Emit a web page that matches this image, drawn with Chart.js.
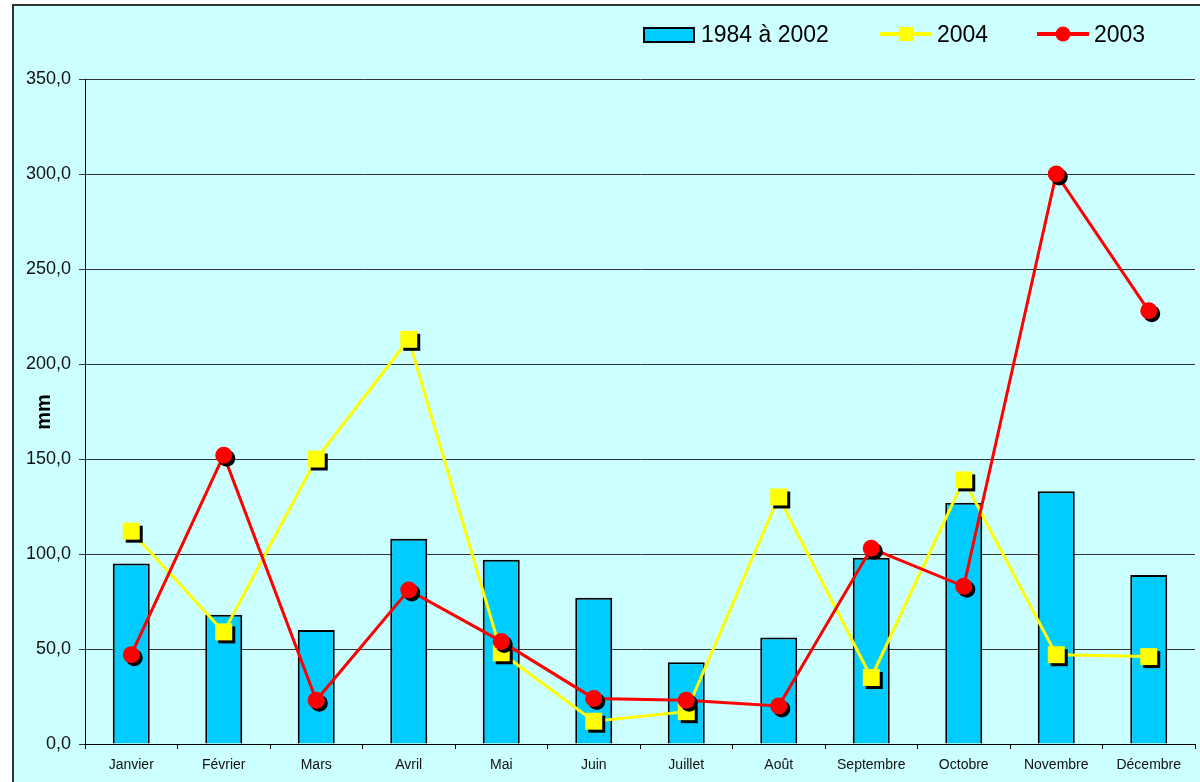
<!DOCTYPE html>
<html>
<head>
<meta charset="utf-8">
<script src="https://cdn.jsdelivr.net/npm/chart.js@4/dist/chart.umd.min.js"></script>
<style>
  html, body { margin: 0; padding: 0; background: #fff; }
  #wrap { width: 1200px; height: 782px; }
</style>
</head>
<body>
<div id="wrap"><canvas id="pluie" width="1200" height="782"></canvas></div>
<script>
const months = ['Janvier', 'Février', 'Mars', 'Avril', 'Mai', 'Juin', 'Juillet', 'Août', 'Septembre', 'Octobre', 'Novembre', 'Décembre'];
const normale = [95, 68, 60, 108, 97, 77, 43, 56, 98, 127, 133, 89];
const pluie2004 = [112, 59, 150, 213, 48, 12, 17, 130, 35, 139, 47, 46];
const pluie2003 = [47, 152, 23, 81, 54, 24, 23, 20, 103, 83, 300, 228];
const seriesNames = ['1984 à 2002', '2004', '2003'];
const yTicks = [0, 50, 100, 150, 200, 250, 300, 350];

const FONT = "'Liberation Sans', Arial, sans-serif";

// background + frame, shadow for marker datasets, legend and axis title
const decor = {
  id: 'decor',
  beforeDraw(chart) {
    const ctx = chart.ctx;
    ctx.save();
    ctx.fillStyle = '#ffffff';
    ctx.fillRect(0, 0, chart.width, chart.height);
    ctx.fillStyle = '#ccffff';
    ctx.fillRect(13, 5, chart.width, chart.height);
    ctx.strokeStyle = '#333';
    ctx.lineWidth = 2;
    ctx.beginPath();
    ctx.moveTo(13, chart.height);
    ctx.lineTo(13, 5);
    ctx.lineTo(chart.width, 5);
    ctx.stroke();
    ctx.restore();
  },
  beforeDatasetDraw(chart, args) {
    const ds = chart.data.datasets[args.index];
    if (ds.showLine === false) {
      const ctx = chart.ctx;
      ctx.save();
      ctx.shadowColor = '#000';
      ctx.shadowOffsetX = 3;
      ctx.shadowOffsetY = 3;
      ctx.shadowBlur = 0;
    }
  },
  afterDatasetDraw(chart, args) {
    const ds = chart.data.datasets[args.index];
    if (ds.showLine === false) chart.ctx.restore();
  },
  afterDraw(chart) {
    const ctx = chart.ctx;
    ctx.save();
    ctx.font = '23px ' + FONT;
    ctx.textBaseline = 'middle';
    ctx.fillStyle = '#000';

    // bar entry
    ctx.fillStyle = '#00ccff';
    ctx.fillRect(644, 28, 50, 14);
    ctx.strokeStyle = '#000';
    ctx.lineWidth = 2;
    ctx.strokeRect(644, 28, 50, 14);
    ctx.fillStyle = '#000';
    ctx.fillText(seriesNames[0], 701, 36);

    // 2004 entry
    ctx.strokeStyle = '#ffff00';
    ctx.lineWidth = 4;
    ctx.beginPath();
    ctx.moveTo(880, 34);
    ctx.lineTo(932, 34);
    ctx.stroke();
    ctx.fillStyle = '#ffff00';
    ctx.fillRect(899, 27, 14, 14);
    ctx.fillStyle = '#000';
    ctx.fillText(seriesNames[1], 937, 36);

    // 2003 entry
    ctx.strokeStyle = '#ff0000';
    ctx.beginPath();
    ctx.moveTo(1037, 34);
    ctx.lineTo(1089, 34);
    ctx.stroke();
    ctx.fillStyle = '#ff0000';
    ctx.beginPath();
    ctx.arc(1063, 34, 7.5, 0, Math.PI * 2);
    ctx.fill();
    ctx.fillStyle = '#000';
    ctx.fillText(seriesNames[2], 1094, 36);

    // y title
    ctx.translate(44, 412);
    ctx.rotate(-Math.PI / 2);
    ctx.font = 'bold 20px ' + FONT;
    ctx.textAlign = 'center';
    ctx.fillText('mm', 0, 0);
    ctx.restore();
  }
};

new Chart(document.getElementById('pluie'), {
  type: 'bar',
  data: {
    labels: months,
    datasets: [
      {
        label: seriesNames[2],
        type: 'line',
        data: pluie2003,
        showLine: false,
        pointStyle: 'circle',
        pointRadius: 8.5,
        pointBorderWidth: 0,
        pointBackgroundColor: '#ff0000',
        order: 1
      },
      {
        label: seriesNames[2],
        type: 'line',
        data: pluie2003,
        borderColor: '#ff0000',
        borderWidth: 3,
        pointRadius: 0,
        fill: false,
        order: 2
      },
      {
        label: seriesNames[1],
        type: 'line',
        data: pluie2004,
        showLine: false,
        pointStyle: 'rect',
        pointRadius: 12,
        pointBorderWidth: 0,
        pointBackgroundColor: '#ffff00',
        order: 3
      },
      {
        label: seriesNames[1],
        type: 'line',
        data: pluie2004,
        borderColor: '#ffff00',
        borderWidth: 3,
        pointRadius: 0,
        fill: false,
        order: 4
      },
      {
        label: seriesNames[0],
        data: normale,
        backgroundColor: '#00ccff',
        borderColor: '#000',
        borderWidth: 2,
        barPercentage: 0.4,
        categoryPercentage: 1,
        order: 5
      }
    ]
  },
  options: {
    responsive: false,
    animation: false,
    events: [],
    layout: { autoPadding: false, padding: { left: 13, top: 79, right: 5, bottom: 0 } },
    plugins: {
      legend: { display: false },
      tooltip: { enabled: false }
    },
    scales: {
      x: {
        afterFit: (scale) => {
          scale.height = 38;
          scale.paddingLeft = 0;
          scale.paddingRight = 0;
        },
        grid: {
          offset: true,
          drawOnChartArea: false,
          color: '#000',
          tickLength: 5
        },
        border: { color: '#000', width: 1 },
        ticks: {
          color: '#111',
          padding: 8,
          maxRotation: 0,
          font: { family: FONT, size: 14 }
        }
      },
      y: {
        min: 0,
        max: 350,
        afterFit: (scale) => { scale.width = 72; },
        afterBuildTicks: (scale) => { scale.ticks = yTicks.map(v => ({ value: v })); },
        grid: { color: '#333', lineWidth: 1, tickLength: 6 },
        border: { color: '#000', width: 1 },
        ticks: {
          color: '#111',
          padding: 8,
          font: { family: FONT, size: 18 },
          callback: (v) => v.toFixed(1).replace('.', ',')
        }
      }
    }
  },
  plugins: [decor]
});
</script>
</body>
</html>
